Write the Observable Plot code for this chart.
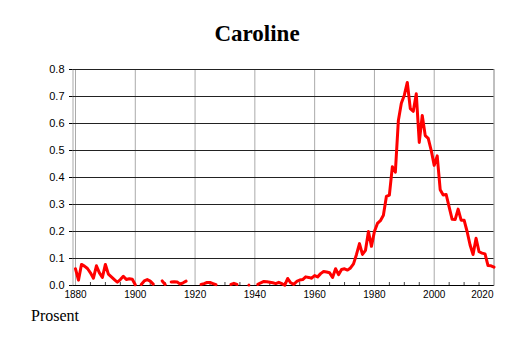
<!DOCTYPE html>
<html><head><meta charset="utf-8">
<script src="https://cdn.jsdelivr.net/npm/d3@7"></script>
<script src="https://cdn.jsdelivr.net/npm/@observablehq/plot@0.6"></script>
<style>
html,body{margin:0;padding:0;background:#fff;width:514px;height:343px;overflow:hidden}
#title{box-sizing:border-box;height:58px;padding-top:22px;font:bold 23px/23px "Liberation Serif","Times New Roman",serif;text-align:center;width:514px;color:#000}
#chart{height:250px}
#chart svg{display:block}
#caption{font:16px/16px "Liberation Serif","Times New Roman",serif;padding-left:31px;color:#000}
</style></head><body>
<div id="title">Caroline</div>
<div id="chart"></div>
<div id="caption">Prosent</div>
<script>
const firstYear = 1880;
const lastYear = 2020;
// percent of girls given the name, one value per year 1880..2020 (null = no data)
const percent = [
  0.062, 0.020, 0.078, 0.072, 0.063, 0.047, 0.027, 0.073, 0.047, 0.030, // 1880s
  0.078, 0.042, 0.032, 0.022, 0.012, 0.022, 0.034, 0.022, 0.025, 0.023, // 1890s
  0.003, null, 0.004, 0.017, 0.022, 0.016, 0.005, null, null, 0.017,    // 1900s
  0.004, null, 0.013, 0.014, 0.013, 0.005, 0.010, 0.016, null, null,    // 1910s
  null, null, 0.004, 0.007, 0.011, 0.011, 0.007, 0.003, null, null,     // 1920s
  null, null, 0.004, 0.008, 0.004, null, null, null, 0.002, null,       // 1930s
  null, 0.004, 0.010, 0.015, 0.014, 0.012, 0.010, 0.007, 0.012, 0.007,  // 1940s
  0.001, 0.026, 0.010, 0.004, 0.015, 0.020, 0.022, 0.032, 0.030, 0.027, // 1950s
  0.037, 0.032, 0.044, 0.052, 0.050, 0.047, 0.030, 0.062, 0.040, 0.059, // 1960s
  0.062, 0.057, 0.065, 0.080, 0.115, 0.155, 0.115, 0.130, 0.200, 0.145, // 1970s
  0.200, 0.230, 0.240, 0.260, 0.330, 0.335, 0.440, 0.420, 0.610, 0.675, // 1980s
  0.705, 0.752, 0.655, 0.645, 0.710, 0.530, 0.630, 0.555, 0.545, 0.500, // 1990s
  0.445, 0.480, 0.355, 0.335, 0.337, 0.290, 0.245, 0.244, 0.283, 0.242, // 2000s
  0.242, 0.200, 0.150, 0.115, 0.175, 0.125, 0.120, 0.117, 0.074, 0.073, // 2010s
  0.068                                                                  // 2020
];
const yTicks = [0, 0.1, 0.2, 0.3, 0.4, 0.5, 0.6, 0.7, 0.8];
const gridYears = [1880, 1900, 1920, 1940, 1960, 1980, 2000, 2020];
const labelYears = [1880, 1900, 1920, 1940, 1960, 1980, 2000];
const edgeLabelYears = [2020];
const minorYears = [1885, 1890, 1895, 1905, 1910, 1915, 1925, 1930, 1935, 1945, 1950, 1955,
                    1965, 1970, 1975, 1985, 1990, 1995, 2005, 2010, 2015];

const data = percent.map((v, i) => ({year: firstYear + i, value: v}));

const chart = Plot.plot({
  width: 514,
  height: 250,
  marginTop: 11,
  marginBottom: 23,
  marginLeft: 72.5,
  marginRight: 20.5,
  style: {background: "white", color: "black", fontFamily: "'Liberation Sans', Arial, sans-serif"},
  x: {domain: [firstYear, lastYear], insetLeft: 2.5, axis: null},
  y: {domain: [0, 0.8], axis: null},
  marks: [
    Plot.ruleX(gridYears, {stroke: "#aaa", strokeWidth: 1}),
    Plot.frame({stroke: "#aaa", strokeWidth: 1}),
    Plot.ruleY(yTicks, {stroke: "#222", strokeWidth: 1}),
    Plot.axisY(yTicks, {label: null, tickSize: 3.5, tickPadding: 5, tickFormat: d3.format(".1f"), fontSize: 11, stroke: "#000"}),
    Plot.tickX(minorYears, {x: d => d, insetTop: 213, stroke: "#444"}),
    Plot.ruleY([0], {stroke: "#000"}),
    Plot.text(labelYears, {x: d => d, text: d => String(d), frameAnchor: "bottom", lineAnchor: "top", dy: 5.5, fontSize: 10, fill: "#000"}),
    Plot.text(edgeLabelYears, {x: d => d, text: d => String(d), frameAnchor: "bottom", lineAnchor: "top", dy: 5.5, dx: -0.5, textAnchor: "end", fontSize: 10, fill: "#000"}),
    Plot.line(data, {x: "year", y: "value", stroke: "#ff0000", strokeWidth: 3})
  ]
});
document.getElementById("chart").appendChild(chart);
</script>
</body></html>
